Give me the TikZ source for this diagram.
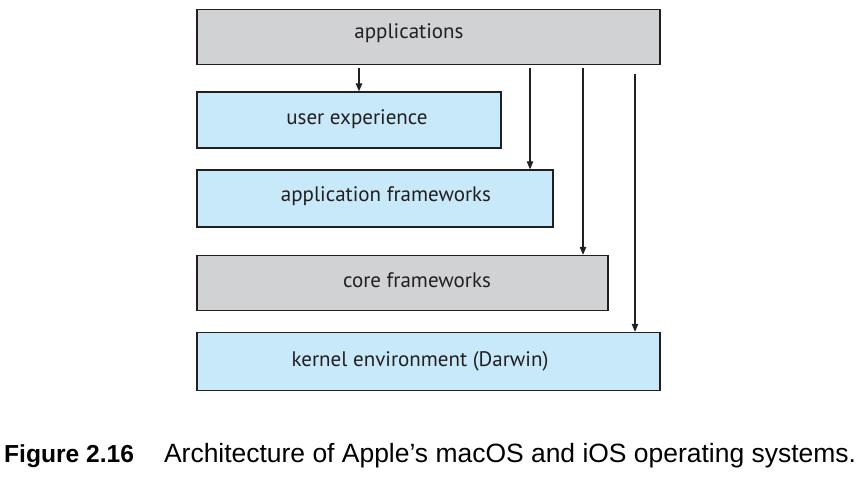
\documentclass[tikz,border=0pt]{standalone}
\usepackage{fontspec}
\setmainfont{PT Sans}
\newfontfamily\capfont{Liberation Sans}
\usetikzlibrary{arrows.meta}
\definecolor{boxgray}{HTML}{D1D2D4}
\definecolor{boxblue}{HTML}{C7E9F9}
\definecolor{edgec}{HTML}{231F20}
\begin{document}
\begin{tikzpicture}[x=1pt,y=-1pt,
  layer/.style={draw=edgec,line width=1.4pt,inner sep=0pt},
  grayb/.style={layer,fill=boxgray},
  blueb/.style={layer,fill=boxblue},
  lbl/.style={anchor=base,inner sep=0pt,font=\fontsize{21}{24}\selectfont,text=edgec},
  conn/.style={draw=edgec,line width=1.1pt,-{Triangle[length=8pt,width=6.5pt]}}]
\useasboundingbox (0,0) rectangle (857,479);
\node[grayb,minimum width=463pt,minimum height=55pt] (app) at (428.5,37) {};
\node[blueb,minimum width=304pt,minimum height=56pt] (ux) at (349,120) {};
\node[blueb,minimum width=356pt,minimum height=57pt] (af) at (375,198.5) {};
\node[grayb,minimum width=411pt,minimum height=55pt] (cf) at (402.5,283) {};
\node[blueb,minimum width=463pt,minimum height=58pt] (ke) at (428.5,361.5) {};
\node[lbl] (tapp) at (409,38) {applications};
\node[lbl] (tux) at (357,124) {user experience};
\node[lbl] (taf) at (386,201) {application frameworks};
\node[lbl] (tcf) at (417,287) {core frameworks};
\node[lbl] (tke) at (420,366) {kernel environment (Darwin)};
\coordinate (s1) at (359,68);
\coordinate (s2) at (530,68);
\coordinate (s3) at (583,68);
\coordinate (s4) at (635,74);
\draw[conn] (s1) -- (s1 |- ux.north);
\draw[conn] (s2) -- (s2 |- af.north);
\draw[conn] (s3) -- (s3 |- cf.north);
\draw[conn] (s4) -- (s4 |- ke.north);
\node[anchor=base west,inner sep=0pt,font=\capfont\fontsize{26.45}{30}\selectfont] (cap) at (4,462) {{\fontsize{24.6}{30}\selectfont\bfseries Figure 2.16}\hspace{30pt}Architecture of Apple’s macOS and iOS operating systems.};
\end{tikzpicture}
\end{document}
